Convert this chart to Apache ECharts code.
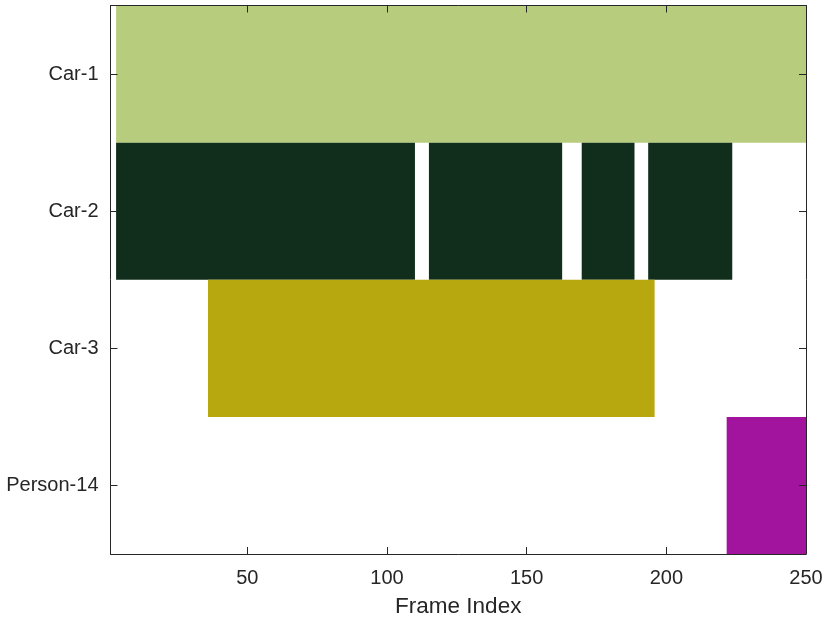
<!DOCTYPE html>
<html><head><meta charset="utf-8">
<script src="https://cdn.jsdelivr.net/npm/echarts@6/dist/echarts.min.js"></script>
<style>html,body{margin:0;padding:0;background:#fff}#c{width:830px;height:623px}</style>
</head><body><div id="c"></div>
<script>
const categories = ['Car-1', 'Car-2', 'Car-3', 'Person-14'];
const colors = ['#b7cc7c', '#112e1d', '#b8a80f', '#a3149e'];
// segments: [category index, start frame, end frame]
const car1Segments = [[0, 3, 250]];
const car2Segments = [[1, 3, 110], [1, 115, 162.7], [1, 169.7, 188.6], [1, 193.5, 223.6]];
const car3Segments = [[2, 35.9, 195.8]];
const person14Segments = [[3, 221.6, 250]];
const xMin = 1, xMax = 250;

const allSegs = [car1Segments, car2Segments, car3Segments, person14Segments];
const font = 'Liberation Sans, Arial, Helvetica, sans-serif';
const axisColor = '#262626';

function renderItem(params, api) {
  const cat = api.value(0);
  const s = api.coord([api.value(1), cat]);
  const e = api.coord([api.value(2), cat]);
  const h = api.size([0, 1])[1];
  return {
    type: 'rect',
    shape: { x: s[0], y: s[1] - h / 2, width: e[0] - s[0], height: h },
    style: { fill: colors[cat] }
  };
}

const chart = echarts.init(document.getElementById('c'), null, { renderer: 'canvas' });
chart.setOption({
  animation: false,
  grid: { left: 110.5, top: 5.5, right: 24, bottom: 69, containLabel: false },
  xAxis: [{
    type: 'value', min: xMin, max: xMax, splitNumber: 5, z: 10,
    name: 'Frame Index', nameLocation: 'middle', nameGap: 41,
    nameTextStyle: { fontFamily: font, fontSize: 22.5, color: '#262626' },
    axisLine: { show: true, lineStyle: { color: axisColor, width: 1 } },
    axisTick: { show: true, inside: true, length: 7, lineStyle: { color: axisColor } },
    axisLabel: { showMinLabel: false, fontFamily: font, fontSize: 20, color: '#262626', margin: 14,
      formatter: v => (v % 50 === 0 ? String(v) : '') },
    splitLine: { show: false }
  }, {
    type: 'value', min: xMin, max: xMax, splitNumber: 5, position: 'top', z: 10,
    axisLine: { show: true, lineStyle: { color: axisColor, width: 1 } },
    axisTick: { show: true, inside: true, length: 7, lineStyle: { color: axisColor } },
    axisLabel: { show: false }, splitLine: { show: false }
  }],
  yAxis: [{
    type: 'category', data: categories, inverse: true, z: 10,
    axisLine: { show: true, lineStyle: { color: axisColor, width: 1 } },
    axisTick: { show: true, inside: true, alignWithLabel: true, length: 7, lineStyle: { color: axisColor } },
    axisLabel: { fontFamily: font, fontSize: 20, color: '#262626', margin: 12 },
    splitLine: { show: false }
  }, {
    type: 'category', data: categories, inverse: true, position: 'right', z: 10,
    axisLine: { show: true, lineStyle: { color: axisColor, width: 1 } },
    axisTick: { show: true, inside: true, alignWithLabel: true, length: 7, lineStyle: { color: axisColor } },
    axisLabel: { show: false }, splitLine: { show: false }
  }],
  series: allSegs.map((segs, i) => ({
    name: categories[i], type: 'custom', renderItem: renderItem,
    xAxisIndex: 0, yAxisIndex: 0, z: 1,
    encode: { x: [1, 2], y: 0 },
    data: segs
  }))
});
</script></body></html>
